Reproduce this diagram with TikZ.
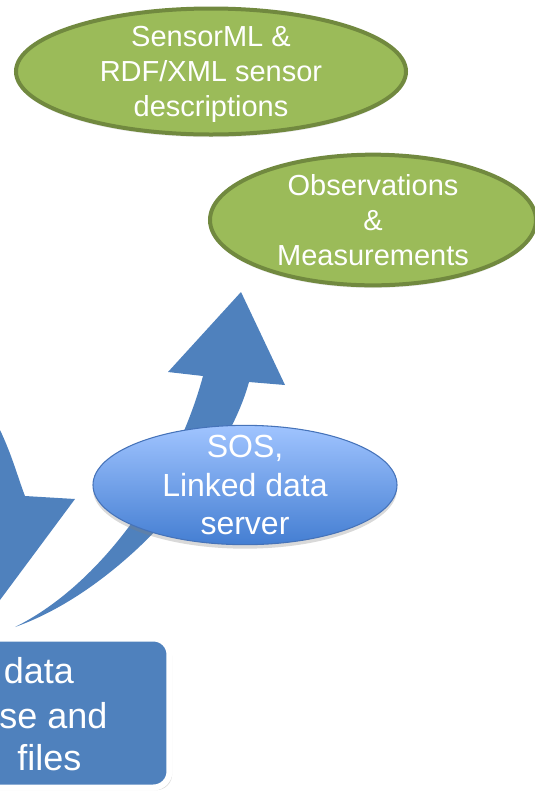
\documentclass[tikz,border=0pt]{standalone}
\usepackage{fontspec}
\setmainfont{Liberation Sans}
\usetikzlibrary{shapes.geometric,shadows,positioning}
\definecolor{arrcol}{RGB}{79,129,189}
\definecolor{omfill}{RGB}{155,187,89}
\definecolor{omline}{RGB}{113,137,63}
\definecolor{sostop}{RGB}{160,196,255}
\definecolor{sosbot}{RGB}{68,126,210}
\definecolor{sosline}{RGB}{70,115,185}

\begin{document}
\begin{tikzpicture}[
  x=0.75pt, y=-0.75pt,
  every node/.style={text=white, align=center, inner sep=0pt},
  %% green ellipse  \node[greenell]{...}
  greenell/.style={
    ellipse, draw=omline, fill=omfill, line width=3pt,
    inner ysep=-10pt, text depth=0pt,
    drop shadow={opacity=0.18, shadow xshift=0pt, shadow yshift=-2pt},
    font=\fontsize{21.75}{26.5}\selectfont
  },
  %% blue server ellipse
  sosell/.style={
    ellipse, draw=sosline, line width=0.8pt,
    top color=sostop, bottom color=sosbot,
    inner ysep=-12pt,
    drop shadow={opacity=0.3, shadow xshift=0pt, shadow yshift=-3pt},
    font=\fontsize{24}{29}\selectfont
  },
  %% rounded store box
  storebox/.style={
    draw=white, fill=arrcol, line width=4.5pt, rounded corners=12pt,
    drop shadow={opacity=0.3, shadow xshift=2pt, shadow yshift=-2pt}
  },
  boxtxt/.style={anchor=base west, font=\fontsize{27}{32}\selectfont},
  bigarrow/.style={fill=arrcol, draw=none},
]
\useasboundingbox (0,0) rectangle (535,794);

%%── Left block arrow (partly outside) ───────────────────────────────────────
\fill[bigarrow] (0,430) .. controls (12,455) and (18,478) .. (25,496)
  -- (75,499) -- (0,600) -- cycle;

%%── Curved block arrow up to the observations ──────────────────────────────
\fill[bigarrow] (15,627) .. controls (100,585) and (175,480) .. (203,376)
  -- (168,372) -- (241,292) -- (285,385) -- (249,382)
  .. controls (225,470) and (120,590) .. (15,627) -- cycle;

%%── Green ellipses ──────────────────────────────────────────────────────────
\node[greenell, minimum width=292.5pt, minimum height=94.5pt] (sml)
  at (211,71.5) {SensorML \&\\RDF/XML sensor\\descriptions};

\node[greenell, minimum width=244.5pt, minimum height=98pt] (om)
  at (373,220) {Observations\\\&\\Measurements};

%%── Server ellipse ──────────────────────────────────────────────────────────
\node[sosell, minimum width=228pt, minimum height=89.5pt] (sos)
  at (245,485) {SOS,\\Linked data\\server};

%%── Store box (cut at the left edge) ───────────────────────────────────────
\node[storebox, minimum width=149.6pt, minimum height=111.75pt] (store)
  at (69.75,713) {};
\node[boxtxt] (st1) at (3.5,683) {data};
\node[boxtxt] (st2) at (-1,728) {se and};
\node[boxtxt] (st3) at (17,770) {files};

\end{tikzpicture}
\end{document}
